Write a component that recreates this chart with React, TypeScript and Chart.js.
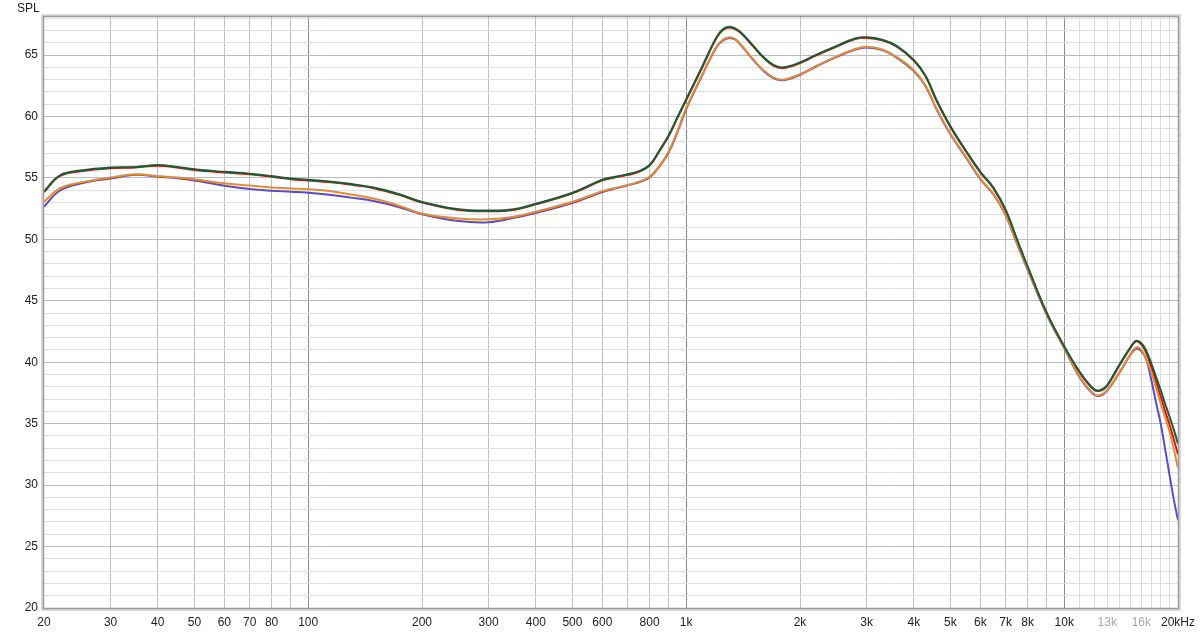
import React, { useEffect, useRef } from "react";
import { Chart, registerables } from "chart.js";
Chart.register(...registerables);

// Frequencies (Hz) shared by all measurement curves
const FREQS = [
  20, 22, 25, 30, 35, 40, 45, 50, 60, 70, 80, 90, 100, 115, 130, 150, 175, 200, 250, 300,
  350, 400, 500, 600, 650, 700, 750, 800, 850, 900, 950, 1000, 1100, 1200, 1250, 1300, 1350, 1400, 1500,
  1600, 1700, 1800, 2000, 2200, 2500, 2800, 3000, 3300, 3600, 4000, 4300, 4600, 5000, 5500,
  6000, 6500, 7000, 7500, 8000, 9000, 10000, 11000, 12000, 12500, 13000, 14000, 15000, 15500,
  16000, 16500, 17000, 17500, 18000, 18500, 19000, 19500, 20000,
];

const GREEN = [
  53.9, 55.2, 55.6, 55.85, 55.9, 56.05, 55.9, 55.7, 55.5, 55.35, 55.15, 54.95, 54.85, 54.7, 54.5, 54.2, 53.65, 53.05, 52.45, 52.35,
  52.45, 52.9, 53.8, 54.85, 55.1, 55.3, 55.55, 56.05, 57.25, 58.5, 60.0, 61.4, 64.0, 66.4, 67.1, 67.3, 67.15, 66.8, 65.8,
  64.85, 64.2, 64.0, 64.4, 65.0, 65.75, 66.35, 66.45, 66.25, 65.75, 64.6, 63.3, 61.3, 59.2, 57.2,
  55.5, 54.2, 52.4, 50.0, 47.8, 44.0, 41.3, 39.2, 37.8, 37.75, 38.15, 39.8, 41.26, 41.75,
  41.55, 40.9, 39.9, 38.8, 37.74, 36.6, 35.57, 34.5, 33.35,
];

const RED = [
  53.85, 55.15, 55.55, 55.8, 55.85, 56.0, 55.85, 55.65, 55.45, 55.3, 55.1, 54.9, 54.8, 54.65, 54.45, 54.15, 53.6, 53.0, 52.4, 52.3,
  52.4, 52.85, 53.75, 54.8, 55.05, 55.25, 55.5, 56.0, 57.2, 58.45, 59.95, 61.35, 63.95, 66.35, 67.05, 67.25, 67.1, 66.75, 65.75,
  64.8, 64.15, 63.95, 64.35, 64.95, 65.7, 66.3, 66.4, 66.2, 65.7, 64.55, 63.25, 61.25, 59.15, 57.15,
  55.45, 54.15, 52.35, 49.95, 47.75, 43.95, 41.25, 39.15, 37.75, 37.7, 38.1, 39.75, 41.2, 41.7,
  41.45, 40.75, 39.6, 38.4, 37.2, 36.0, 34.9, 33.7, 32.5,
];

const ORANGE = [
  53.06, 54.15, 54.64, 55.04, 55.3, 55.15, 55.04, 54.9, 54.56, 54.39, 54.23, 54.15, 54.08, 53.92, 53.65, 53.3, 52.72, 52.1, 51.7, 51.63,
  51.84, 52.25, 53.06, 53.93, 54.2, 54.42, 54.7, 55.1, 56.0, 57.2, 58.9, 60.7, 63.35, 65.65, 66.25, 66.45, 66.3, 65.8, 64.7,
  63.77, 63.18, 63.0, 63.45, 64.1, 64.9, 65.5, 65.67, 65.45, 64.86, 63.77, 62.5, 60.6, 58.6, 56.7,
  54.95, 53.7, 52.0, 49.7, 47.6, 43.9, 41.2, 38.8, 37.4, 37.35, 37.74, 39.2, 40.7, 41.2,
  41.0, 40.2, 39.2, 37.9, 36.65, 35.5, 34.35, 32.9, 31.4,
];

const BLUE = [
  52.66, 53.96, 54.55, 54.96, 55.26, 55.1, 54.98, 54.8, 54.37, 54.1, 53.96, 53.88, 53.8, 53.62, 53.4, 53.1, 52.6, 52.05, 51.5, 51.4,
  51.75, 52.15, 52.95, 53.85, 54.15, 54.4, 54.65, 55.05, 55.95, 57.1, 58.8, 60.6, 63.3, 65.6, 66.2, 66.4, 66.25, 65.75, 64.65,
  63.72, 63.13, 62.95, 63.4, 64.05, 64.85, 65.45, 65.62, 65.4, 64.8, 63.7, 62.45, 60.55, 58.55, 56.65,
  54.9, 53.65, 51.95, 49.65, 47.55, 43.85, 41.15, 38.75, 37.35, 37.3, 37.7, 39.15, 40.65, 41.1,
  40.9, 40.2, 38.55, 36.7, 35.0, 32.9, 30.8, 28.8, 27.15,
];

// Axis ticks / grid
const X_GRID = [
  20, 30, 40, 50, 60, 70, 80, 90, 100, 200, 300, 400, 500, 600, 700, 800, 900, 1000,
  2000, 3000, 4000, 5000, 6000, 7000, 8000, 9000, 10000, 11000, 12000, 13000, 14000, 15000,
  16000, 17000, 18000, 19000, 20000,
];
const X_LABEL_VALUES = [
  20, 30, 40, 50, 60, 70, 80, 100, 200, 300, 400, 500, 600, 800, 1000, 2000, 3000, 4000,
  5000, 6000, 7000, 8000, 10000, 13000, 16000, 20000,
];
const X_LABEL_TEXT = [
  "20", "30", "40", "50", "60", "70", "80", "100", "200", "300", "400", "500", "600", "800",
  "1k", "2k", "3k", "4k", "5k", "6k", "7k", "8k", "10k", "13k", "16k", "20kHz",
];
const X_FADED = [13000, 16000];
const DECADES = [100, 1000, 10000];

const Y_MIN = 20;
const Y_MAX = 68.1;
const Y_GRID = [20, 21, 22, 23, 24, 25, 26, 27, 28, 29, 30, 31, 32, 33, 34, 35, 36, 37, 38, 39, 40, 41, 42, 43, 44, 45, 46, 47, 48, 49, 50, 51, 52, 53, 54, 55, 56, 57, 58, 59, 60, 61, 62, 63, 64, 65, 66, 67, 68];
const Y_LABEL_VALUES = [20, 25, 30, 35, 40, 45, 50, 55, 60, 65];

const FONT = '"Liberation Sans", Arial, sans-serif';

const toPoints = (ys: number[]) => FREQS.map((f, i) => ({ x: f, y: ys[i] }));

const framePlugin = {
  id: "frame",
  afterDraw(chart: any) {
    const { ctx, chartArea: a } = chart;
    ctx.save();
    ctx.strokeStyle = "#dadada";
    ctx.lineWidth = 2;
    ctx.strokeRect(a.left - 2, a.top - 2, a.right - a.left + 4, a.bottom - a.top + 4);
    ctx.strokeStyle = "#9c9c9c";
    ctx.lineWidth = 1.5;
    ctx.strokeRect(a.left - 0.5, a.top - 0.5, a.right - a.left + 1, a.bottom - a.top + 1);
    ctx.fillStyle = "#222";
    ctx.font = `12px ${FONT}`;
    ctx.textBaseline = "alphabetic";
    ctx.textAlign = "left";
    ctx.fillText("SPL", 17, 12);
    ctx.restore();
  },
};

export default function App() {
  const ref = useRef<HTMLCanvasElement | null>(null);
  useEffect(() => {
    if (!ref.current) return;
    const line = (label: string, data: number[], color: string, order: number) => ({
      label,
      data: toPoints(data),
      borderColor: color,
      backgroundColor: color,
      borderWidth: 2,
      pointRadius: 0,
      tension: 0.4,
      order,
    });
    const chart = new Chart(ref.current, {
      type: "line",
      data: {
        datasets: [
          line("L", GREEN, "#1f5b30", 0),
          line("R", RED, "#d01818", 2),
          line("L2", ORANGE, "#e38c35", 1),
          line("R2", BLUE, "#5a4ec8", 3),
        ],
      },
      options: {
        animation: false,
        responsive: false,
        devicePixelRatio: 1,
        parsing: false as any,
        normalized: true,
        layout: { padding: { top: 17, right: 22, left: 0, bottom: 0 } },
        plugins: { legend: { display: false }, tooltip: { enabled: false } },
        scales: {
          x: {
            type: "logarithmic",
            min: 20,
            max: 20000,
            afterBuildTicks: (s: any) => {
              s.ticks = X_GRID.map((v) => ({ value: v }));
            },
            afterFit: (s: any) => {
              s.height = 25;
              s.paddingLeft = 0;
              s.paddingRight = 0;
            },
            border: { display: false },
            grid: {
              drawTicks: false,
              lineWidth: 1,
              color: (c: any) => {
                const v = c.tick?.value;
                if (v === 20 || v === 20000) return "rgba(0,0,0,0)";
                if (DECADES.includes(v)) return "#8a8a8a";
                if (v > 10000) return "#dcdcdc";
                return "#c0c0c0";
              },
            },
            ticks: {
              autoSkip: false,
              maxRotation: 0,
              minRotation: 0,
              padding: 7,
              font: { family: FONT, size: 12 },
              color: (c: any) => (X_FADED.includes(c.tick?.value) ? "#a8a8a8" : "#222"),
              callback: (v: any) => {
                const i = X_LABEL_VALUES.indexOf(Number(v));
                return i >= 0 ? X_LABEL_TEXT[i] : "";
              },
            },
          },
          y: {
            type: "linear",
            min: Y_MIN,
            max: Y_MAX,
            afterBuildTicks: (s: any) => {
              s.ticks = Y_GRID.map((v) => ({ value: v }));
            },
            afterFit: (s: any) => {
              s.width = 44;
            },
            border: { display: false },
            grid: {
              drawTicks: false,
              lineWidth: 1,
              color: (c: any) => {
                const v = c.tick?.value;
                if (v === 20) return "rgba(0,0,0,0)";
                return v % 5 === 0 ? "#bcbcbc" : "#e0e0e0";
              },
            },
            ticks: {
              autoSkip: false,
              padding: 6,
              font: { family: FONT, size: 12 },
              color: "#222",
              callback: (v: any) => (Y_LABEL_VALUES.includes(Number(v)) ? String(v) : ""),
            },
          },
        },
      },
      plugins: [framePlugin],
    } as any);
    return () => chart.destroy();
  }, []);
  return (
    <div style={{ position: "fixed", left: 0, top: 0, width: 1200, height: 633, background: "#fff" }}>
      <canvas ref={ref} width={1200} height={633} />
    </div>
  );
}
